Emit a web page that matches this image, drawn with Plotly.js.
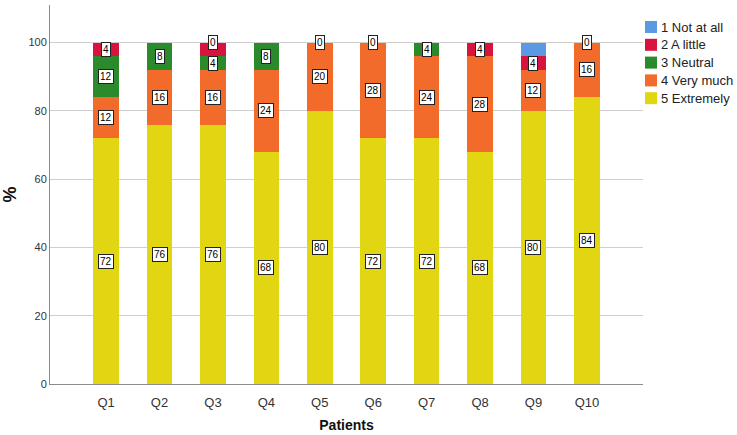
<!DOCTYPE html>
<html>
    <head>
        <meta charset="utf-8">
        <script src="https://cdn.plot.ly/plotly-3.0.1.min.js"></script>
        <style>
            html, body { margin: 0; padding: 0; background: #fff; }
            #plot { width: 737px; height: 435px; }
        </style>
    </head>
    <body>
        <div id="plot"></div>
        <script type="text/javascript">
            // categories and the answer shares (%) per question
            var questions = ['Q1', 'Q2', 'Q3', 'Q4', 'Q5', 'Q6', 'Q7', 'Q8', 'Q9', 'Q10'];
            var extremely = [72, 76, 76, 68, 80, 72, 72, 68, 80, 84];
            var veryMuch  = [12, 16, 16, 24, 20, 28, 24, 28, 12, 16];
            var neutral   = [12,  8,  4,  8,  0,  0,  4,  0,  0,  0];
            var aLittle   = [ 4,  0,  4,  0,  0,  0,  0,  4,  4,  0];
            var notAtAll  = [ 0,  0,  0,  0,  0,  0,  0,  0,  4,  0];

            // which data labels are visible in the picture (1 = shown)
            var showExtremely = [1, 1, 1, 1, 1, 1, 1, 1, 1, 1];
            var showVeryMuch  = [1, 1, 1, 1, 1, 1, 1, 1, 1, 1];
            var showNeutral   = [1, 1, 1, 1, 0, 0, 1, 0, 0, 0];
            var showALittle   = [1, 0, 0, 0, 1, 1, 0, 1, 1, 1];
            var showNotAtAll  = [0, 0, 1, 0, 0, 0, 0, 0, 0, 0];

            var series = [
                {name: '5 Extremely',  values: extremely, show: showExtremely, color: '#e2d511'},
                {name: '4 Very much',  values: veryMuch,  show: showVeryMuch,  color: '#f26b2b'},
                {name: '3 Neutral',    values: neutral,   show: showNeutral,   color: '#2b8a2b'},
                {name: '2 A little',   values: aLittle,   show: showALittle,   color: '#d8133d'},
                {name: '1 Not at all', values: notAtAll,  show: showNotAtAll,  color: '#5b9ae3'}
            ];

            var traces = series.map(function(s) {
                return {
                    type: 'bar',
                    x: questions,
                    y: s.values,
                    name: s.name,
                    width: 0.48,
                    marker: {color: s.color, line: {width: 0}},
                    hoverinfo: 'x+y+name',
                    showlegend: false
                };
            });

            // boxed data labels at the middle of each segment
            var annotations = [];
            var base = questions.map(function() { return 0; });
            series.forEach(function(s) {
                questions.forEach(function(q, i) {
                    var v = s.values[i];
                    if (s.show[i]) {
                        annotations.push({
                            x: q, y: base[i] + v / 2, xref: 'x', yref: 'y',
                            text: String(v), showarrow: false,
                            font: {family: 'Liberation Sans, Arial', size: 10, color: '#000'},
                            bgcolor: '#fff', bordercolor: '#222', borderwidth: 1, borderpad: 1
                        });
                    }
                    base[i] += v;
                });
            });

            // legend drawn as swatches + text, top item first
            var shapes = [];
            var legendOrder = series.slice().reverse();
            legendOrder.forEach(function(s, k) {
                var yc = 27 + k * 17.8;
                shapes.push({
                    type: 'rect', xref: 'paper', yref: 'paper',
                    x0: (645 - 50) / 593, x1: (657 - 50) / 593,
                    y0: (384 - yc - 6) / 379, y1: (384 - yc + 6) / 379,
                    fillcolor: s.color, line: {width: 0}
                });
                annotations.push({
                    xref: 'paper', yref: 'paper',
                    x: (659 - 50) / 593, y: (384 - yc) / 379,
                    xanchor: 'left', yanchor: 'middle',
                    text: s.name, showarrow: false,
                    font: {family: 'Liberation Sans, Arial', size: 13, color: '#222'}
                });
            });

            var layout = {
                width: 737,
                height: 435,
                margin: {l: 50, r: 94, t: 5, b: 51},
                paper_bgcolor: '#fff',
                plot_bgcolor: '#fff',
                barmode: 'stack',
                font: {family: 'Liberation Sans, Arial', color: '#222'},
                xaxis: {
                    type: 'category',
                    range: [-1.05, 10.05],
                    showline: true, linecolor: '#8c8c8c', linewidth: 1,
                    showgrid: false, zeroline: false,
                    ticks: 'outside', ticklen: 6, tickcolor: 'rgba(0,0,0,0)',
                    tickfont: {size: 13, color: '#333'},
                    title: {text: '<b>Patients</b>', font: {size: 14, color: '#111'}, standoff: 11}
                },
                yaxis: {
                    range: [0, 111],
                    tickvals: [0, 20, 40, 60, 80, 100],
                    showline: true, linecolor: '#8c8c8c', linewidth: 1,
                    showgrid: true, gridcolor: '#cfcfcf', gridwidth: 1,
                    zeroline: false,
                    ticks: '', tickfont: {size: 11, color: '#333'},
                    title: {text: '<b>%</b>', font: {size: 18, color: '#111'}, standoff: 12}
                },
                annotations: annotations,
                shapes: shapes
            };

            Plotly.newPlot('plot', traces, layout, {displayModeBar: false, staticPlot: true});
        </script>
    </body>
</html>
